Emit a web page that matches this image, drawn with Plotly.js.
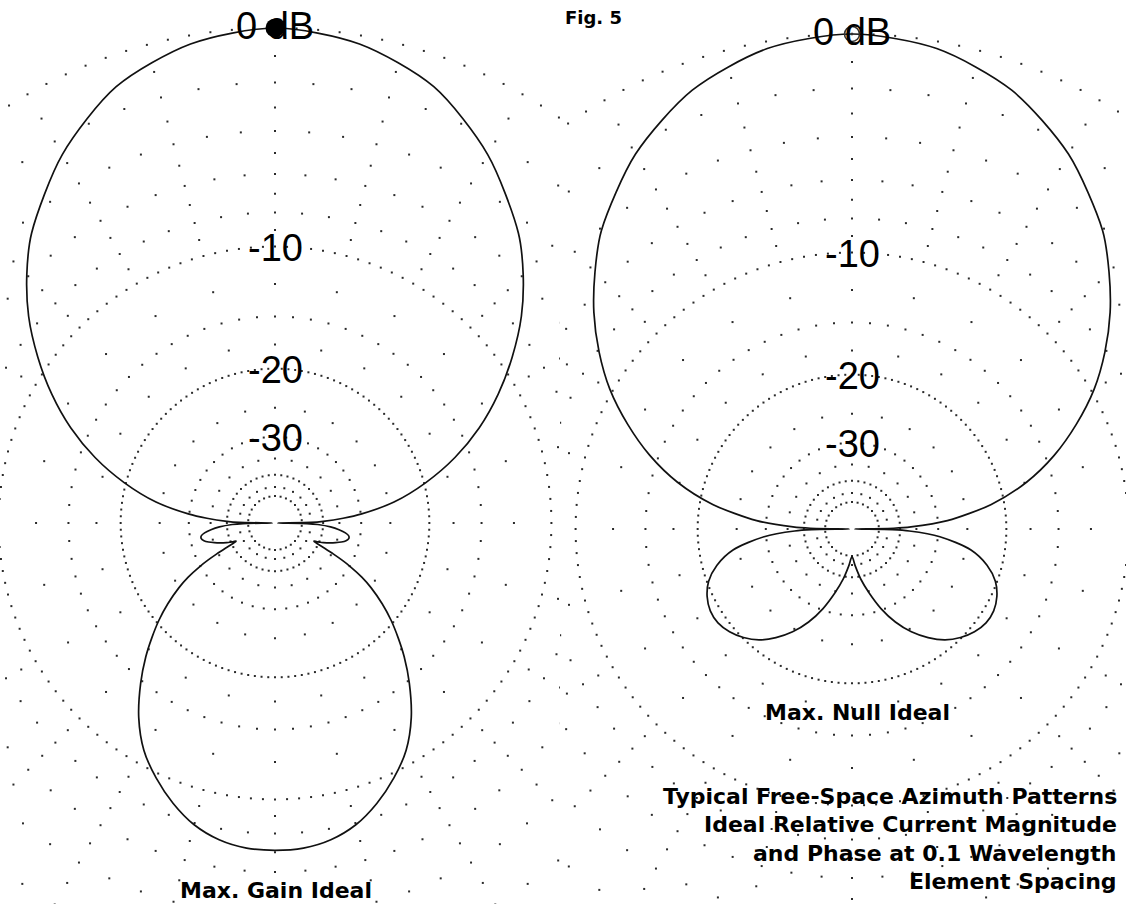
<!DOCTYPE html>
<html><head><meta charset="utf-8">
<script src="https://cdn.plot.ly/plotly-3.0.1.min.js"></script>
<style>html,body{margin:0;padding:0;background:#fff;}#chart{width:1126px;height:904px;}</style>
</head><body><div id="chart"></div>
<script>
// ---- data (half patterns, symmetric about the forward axis) ----
// azimuth in degrees from forward (top), gain in dB relative to maximum
const gainAngles = [0,10,20,30,40,45,50,55,60,65,70,75,80,84,86,88,89,90,91,92,94,96,98,100,102,104,106,108,110,112,113,114,115,116,117,118,119,120,122,124,127,130,133,136,140,145,150,155,160,165,170,175,180];
const gainDb     = [0,-0.3,-1.1,-2.6,-4.6,-5.9,-7.4,-9.2,-11.2,-13.5,-16.3,-19.8,-24.2,-29.8,-34,-40,-45,-90,-47,-42,-37.5,-35,-33.3,-32.4,-32.3,-32.8,-33.8,-35.2,-36.8,-38.6,-39.6,-41,-42,-40.5,-37.5,-34.5,-32,-30,-27,-24.9,-22.4,-20.3,-18.5,-16.8,-14.8,-12.6,-10.9,-9.7,-8.7,-7.9,-7.4,-7.15,-7.1];
const nullAngles = [0,10,20,30,40,45,50,55,60,65,70,75,80,85,88,89,90,91,92,95,100,105,110,115,120,125,130,135,140,145,150,155,160,165,170,175,180];
const nullDb     = [0,-0.25,-1.0,-2.3,-4.1,-5.3,-6.6,-8.1,-9.8,-11.9,-14.3,-17.3,-21.5,-28.2,-36.5,-42.5,-90,-43,-37,-29.6,-24.2,-21.7,-20.2,-19.4,-19.0,-19.0,-19.4,-20.1,-21.1,-22.6,-24.5,-27.0,-30.3,-34.5,-39,-44.5,-49.5];

// grid (ARRL log scale)
const ringLevels  = [0,-2,-4,-6,-8,-10,-15,-20,-30,-40,-50];
const ringStepDeg = [2.5,5,5,5,5,2.5,5,2.5,7.5,7.5,12];
const spokeLevels = [-1,-3,-5,-7,-9,-12.5,-17.5,-25,-35,-45];
const spokeStepDeg = 15;
const labelLevels = [0,-10,-20,-30];
const labelTexts  = ['0 dB','-10','-20','-30'];
const plotTitles  = ['Max. Gain Ideal','Max. Null Ideal'];
const figLabel    = 'Fig. 5';
const captionLines = ['Typical Free-Space Azimuth Patterns','Ideal Relative Current Magnitude','and Phase at 0.1 Wavelength','Element Spacing'];

// ---- helpers ----
function arrl(db){ return Math.pow(0.89, -db/2); }
function mirror(angles, db){
  const th = angles.slice(), d = db.slice();
  for (let i = angles.length-2; i >= 0; i--){ th.push(360-angles[i]); d.push(db[i]); }
  return {th, d};
}
function toXY(th, db){
  const x=[], y=[];
  for (let i=0;i<th.length;i++){
    const r = arrl(db[i]), a = th[i]*Math.PI/180;
    x.push(r*Math.sin(a)); y.push(r*Math.cos(a));
  }
  return {x,y};
}
function gridXY(){
  const x=[], y=[];
  ringLevels.forEach((lv,k)=>{
    const r = arrl(lv), st = ringStepDeg[k];
    for (let a=0; a<360-1e-9; a+=st){ const t=a*Math.PI/180; x.push(r*Math.sin(t)); y.push(r*Math.cos(t)); }
  });
  for (let a=0; a<360; a+=spokeStepDeg){
    const t=a*Math.PI/180;
    spokeLevels.forEach(lv=>{ const r=arrl(lv); x.push(r*Math.sin(t)); y.push(r*Math.cos(t)); });
  }
  return {x,y};
}

const W=1126, H=904, R0=495;
const panels = [
  {cx:275, cy:523, x0:0,   x1:560,  ax:'x',  ay:'y',  pat:mirror(gainAngles,gainDb), open:false},
  {cx:852, cy:529, x0:560, x1:1126, ax:'x2', ay:'y2', pat:mirror(nullAngles,nullDb), open:true}
];

const traces=[], annotations=[];
const layout = {
  width:W, height:H, margin:{l:0,r:0,t:0,b:0}, showlegend:false,
  paper_bgcolor:'#fff', plot_bgcolor:'rgba(0,0,0,0)', annotations
};
const g = gridXY();
panels.forEach((p,i)=>{
  const xa = i===0?'xaxis':'xaxis2', ya = i===0?'yaxis':'yaxis2';
  layout[xa] = {domain:[p.x0/W, p.x1/W], range:[-(p.cx-p.x0)/R0, (p.x1-p.cx)/R0], visible:false, fixedrange:true, anchor:p.ay};
  layout[ya] = {domain:[0,1], range:[-(H-p.cy)/R0, p.cy/R0], visible:false, fixedrange:true, anchor:p.ax};
  traces.push({type:'scatter', mode:'markers', x:g.x, y:g.y, xaxis:p.ax, yaxis:p.ay, hoverinfo:'skip',
    marker:{size:2, color:'#2a2a2a', symbol:'square'}});
  const xy = toXY(p.pat.th, p.pat.d);
  traces.push({type:'scatter', mode:'lines', x:xy.x, y:xy.y, xaxis:p.ax, yaxis:p.ay,
    line:{color:'#111', width:1.7, shape:'spline', smoothing:0.8}});
  traces.push({type:'scatter', mode:'markers', x:[0], y:[arrl(0)], xaxis:p.ax, yaxis:p.ay,
    marker: p.open ? {size:15, symbol:'circle-open-dot', color:'#333', line:{width:1.6, color:'#333'}}
                   : {size:19, symbol:'circle', color:'#000'}});
  labelLevels.forEach((lv,k)=>{
    annotations.push({xref:p.ax, yref:p.ay, x:0, y:arrl(lv), yshift:(lv===0?2:-1), text:labelTexts[k], showarrow:false,
      xanchor:'center', yanchor:'middle', font:{family:'Liberation Sans, Arial, sans-serif', size:38, color:'#000'}});
  });
});
const bold = {family:'DejaVu Sans, sans-serif', size:22, color:'#000', weight:700};
annotations.push({xref:'paper', yref:'paper', x:276/W, y:1-890/H, text:plotTitles[0], showarrow:false, xanchor:'center', yanchor:'middle', font:bold});
annotations.push({xref:'paper', yref:'paper', x:857/W, y:1-712/H, text:plotTitles[1], showarrow:false, xanchor:'center', yanchor:'middle', font:bold});
annotations.push({xref:'paper', yref:'paper', x:563/W, y:1-17/H, text:figLabel, showarrow:false, xanchor:'left', yanchor:'middle', font:{family:'DejaVu Sans, sans-serif', size:18, color:'#000', weight:700}});
captionLines.forEach((t,k)=>{
  annotations.push({xref:'paper', yref:'paper', x:1119/W, y:1-(796+28.5*k)/H, text:t, showarrow:false, xanchor:'right', yanchor:'middle', font:bold});
});

Plotly.newPlot('chart', traces, layout, {staticPlot:true, displayModeBar:false});
</script></body></html>
